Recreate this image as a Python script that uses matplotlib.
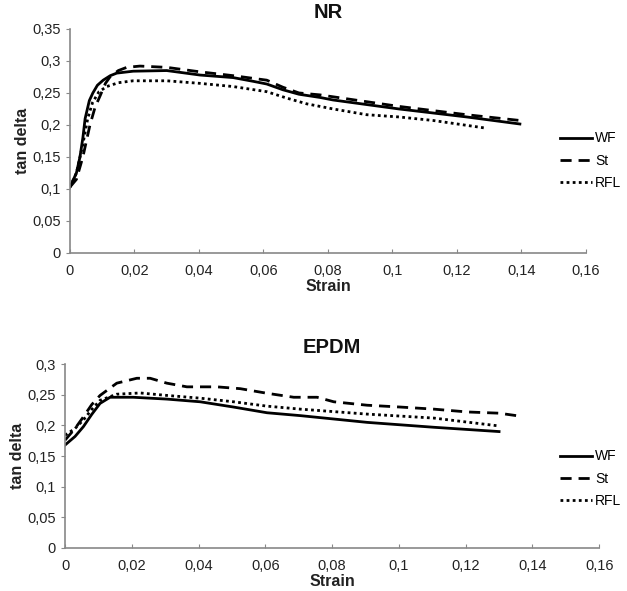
import matplotlib
matplotlib.use("Agg")
import matplotlib.pyplot as plt
from matplotlib.ticker import FuncFormatter

plt.rcParams['font.family'] = ['Liberation Sans', 'DejaVu Sans']

# NR data
nr_wf_x = [0, 0.002, 0.0031, 0.004, 0.0047, 0.006, 0.0071, 0.0085, 0.0103, 0.0125, 0.0145,
           0.0196, 0.03, 0.0403, 0.0506, 0.057, 0.061, 0.066, 0.071, 0.0775, 0.0816,
           0.102, 0.123, 0.1395]
nr_wf_y = [0.103, 0.125, 0.15, 0.18, 0.21, 0.238, 0.25, 0.262, 0.27, 0.277, 0.281,
           0.284, 0.285, 0.278, 0.274, 0.268, 0.264, 0.255, 0.248, 0.243, 0.239,
           0.225, 0.2125, 0.2015]
nr_st_x = [0, 0.002, 0.004, 0.0062, 0.0078, 0.0093, 0.011, 0.0124, 0.015, 0.0176, 0.0217,
           0.03, 0.0403, 0.0506, 0.061, 0.066, 0.071, 0.0775, 0.102, 0.123, 0.1395]
nr_st_y = [0.103, 0.115, 0.15, 0.2, 0.228, 0.245, 0.265, 0.275, 0.285, 0.29, 0.292,
           0.29, 0.283, 0.277, 0.27, 0.259, 0.25, 0.247, 0.229, 0.216, 0.207]
nr_rfl_x = [0, 0.002, 0.004, 0.0055, 0.007, 0.009, 0.0114, 0.015, 0.0196, 0.03, 0.0403,
            0.0506, 0.061, 0.0672, 0.0734, 0.0816, 0.092, 0.102, 0.1126, 0.129]
nr_rfl_y = [0.103, 0.125, 0.17, 0.21, 0.235, 0.252, 0.26, 0.266, 0.269, 0.269, 0.265,
            0.26, 0.252, 0.242, 0.233, 0.225, 0.216, 0.2125, 0.207, 0.195]

# EPDM data
ep_wf_x = [0, 0.003, 0.0055, 0.008, 0.0105, 0.0135, 0.0204, 0.0305, 0.0405, 0.0505,
           0.0605, 0.0705, 0.0905, 0.1105, 0.13]
ep_wf_y = [0.168, 0.182, 0.198, 0.218, 0.236, 0.246, 0.246, 0.243, 0.2386, 0.23,
           0.2207, 0.216, 0.205, 0.197, 0.19]
ep_st_x = [0, 0.003, 0.0055, 0.008, 0.0105, 0.0155, 0.0215, 0.0255, 0.0305, 0.0365,
           0.0455, 0.0525, 0.0605, 0.0685, 0.0755, 0.0805, 0.0905, 0.1005, 0.1105,
           0.1205, 0.13, 0.1365]
ep_st_y = [0.176, 0.195, 0.214, 0.234, 0.249, 0.269, 0.277, 0.277, 0.269, 0.263,
           0.263, 0.26, 0.2525, 0.246, 0.246, 0.2386, 0.233, 0.23, 0.2266,
           0.222, 0.22, 0.215]
ep_rfl_x = [0, 0.003, 0.0055, 0.008, 0.0105, 0.0155, 0.0225, 0.0305, 0.0405, 0.0505,
            0.0605, 0.0705, 0.0905, 0.1105, 0.1295]
ep_rfl_y = [0.184, 0.195, 0.209, 0.226, 0.241, 0.251, 0.253, 0.249, 0.2445, 0.2386,
            0.2315, 0.2266, 0.2185, 0.212, 0.1995]

labels = ['WF', 'St', 'RFL']
x_ticks = [0, 0.02, 0.04, 0.06, 0.08, 0.1, 0.12, 0.14, 0.16]


def comma(v, pos):
    s = ('%.2f' % v).rstrip('0').rstrip('.')
    return s.replace('.', ',')


def style_axes(ax, ymax, title):
    ax.set_xlim(0, 0.16)
    ax.set_ylim(0, ymax)
    ax.set_xticks(x_ticks)
    ax.set_yticks([i * 0.05 for i in range(int(round(ymax / 0.05)) + 1)])
    ax.xaxis.set_major_formatter(FuncFormatter(comma))
    ax.yaxis.set_major_formatter(FuncFormatter(comma))
    for s in ['top', 'right']:
        ax.spines[s].set_visible(False)
    for s in ['left', 'bottom']:
        ax.spines[s].set_color('#888888')
        ax.spines[s].set_linewidth(1.2)
    ax.tick_params(axis='x', direction='in', length=3, color='#888888', labelsize=10.5,
                   labelcolor='#222222', pad=8)
    ax.tick_params(axis='y', direction='out', length=3, color='#888888', labelsize=10.5,
                   labelcolor='#222222')
    ax.set_xlabel('Strain', fontsize=11.5, fontweight='bold', labelpad=1, color='#222222')
    ax.set_ylabel('tan delta', fontsize=11.5, fontweight='bold', labelpad=2, color='#222222')
    ax.set_title(title, fontsize=14.5, fontweight='bold', pad=8, color='#111111')


fig = plt.figure(figsize=(6.27, 5.91), dpi=100)

ax1 = fig.add_axes([0.1116, 0.572, 0.823, 0.379])
ax1.plot(nr_wf_x, nr_wf_y, color='black', lw=2, ls='-', label=labels[0])
ax1.plot(nr_st_x, nr_st_y, color='black', lw=2, ls=(0, (4, 2.5)), label=labels[1])
ax1.plot(nr_rfl_x, nr_rfl_y, color='black', lw=2, ls=(0, (1, 1.2)), label=labels[2])
style_axes(ax1, 0.35, 'NR')
ax1.legend(loc='upper left', bbox_to_anchor=(0.885, 0.787), bbox_transform=fig.transFigure,
           frameon=False, fontsize=10, handlelength=2.3, handletextpad=0.2,
           labelspacing=0.6, borderaxespad=0)

ax2 = fig.add_axes([0.1037, 0.0728, 0.852, 0.311])
ax2.plot(ep_wf_x, ep_wf_y, color='black', lw=2, ls='-', label=labels[0])
ax2.plot(ep_st_x, ep_st_y, color='black', lw=2, ls=(0, (4, 2.5)), label=labels[1])
ax2.plot(ep_rfl_x, ep_rfl_y, color='black', lw=2, ls=(0, (1, 1.2)), label=labels[2])
style_axes(ax2, 0.3, 'EPDM')
ax2.legend(loc='upper left', bbox_to_anchor=(0.885, 0.249), bbox_transform=fig.transFigure,
           frameon=False, fontsize=10, handlelength=2.3, handletextpad=0.2,
           labelspacing=0.6, borderaxespad=0)

fig.savefig('out.png', dpi=100, facecolor='white')
